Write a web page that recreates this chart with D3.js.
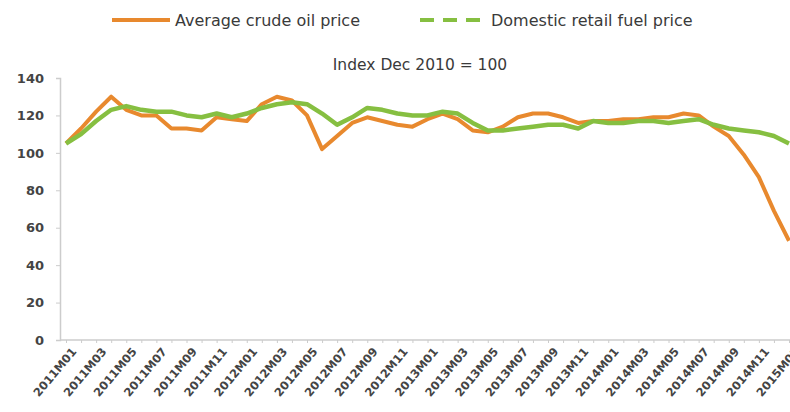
<!DOCTYPE html>
<html>
<head>
<meta charset="utf-8">
<script src="https://cdn.jsdelivr.net/npm/d3@7"></script>
<style>
  body { margin: 0; background: #fff; }
  text { font-family: "DejaVu Sans", sans-serif; fill: #3a3a3a; }
</style>
</head>
<body>
<div id="chart"></div>
<script>
const months = [
  '2011M01','2011M02','2011M03','2011M04','2011M05','2011M06','2011M07','2011M08','2011M09','2011M10','2011M11','2011M12',
  '2012M01','2012M02','2012M03','2012M04','2012M05','2012M06','2012M07','2012M08','2012M09','2012M10','2012M11','2012M12',
  '2013M01','2013M02','2013M03','2013M04','2013M05','2013M06','2013M07','2013M08','2013M09','2013M10','2013M11','2013M12',
  '2014M01','2014M02','2014M03','2014M04','2014M05','2014M06','2014M07','2014M08','2014M09','2014M10','2014M11','2014M12',
  '2015M01'
];

// average crude oil price index
const crude = [
  105, 113, 122, 130, 123, 120, 120, 113, 113, 112, 119, 118,
  117, 126, 130, 128, 120, 102, 109, 116, 119, 117, 115, 114,
  118, 121, 118, 112, 111, 114, 119, 121, 121, 119, 116, 117,
  117, 118, 118, 119, 119, 121, 120, 114, 109, 99, 87, 69,
  53
];

// domestic retail fuel price index
const retail = [
  105, 110, 117, 123, 125, 123, 122, 122, 120, 119, 121, 119,
  121, 124, 126, 127, 126, 121, 115, 119, 124, 123, 121, 120,
  120, 122, 121, 116, 112, 112, 113, 114, 115, 115, 113, 117,
  116, 116, 117, 117, 116, 117, 118, 115, 113, 112, 111, 109,
  105
];

const yTicks = [0, 20, 40, 60, 80, 100, 120, 140];
const xTickLabels = months.filter((m, i) => i % 2 === 0);

const width = 790;
const height = 412;

const svg = d3.select('#chart')
  .append('svg')
  .attr('width', width)
  .attr('height', height);

const x = d3.scalePoint()
  .domain(months)
  .range([66, 789]);

const y = d3.scaleLinear()
  .domain([0, 140])
  .range([340, 78]);

// Y axis
const yAxis = svg.append('g')
  .attr('transform', 'translate(60,0)')
  .call(d3.axisLeft(y).tickValues(yTicks).tickSize(4).tickPadding(12));
yAxis.select('.domain').attr('stroke', '#ccc').attr('stroke-width', 1.5);
yAxis.selectAll('.tick line').attr('stroke', '#ccc');
yAxis.selectAll('.tick text').attr('font-size', 13).attr('font-weight', 'bold').style('fill', '#444');

// X axis
const xAxis = svg.append('g')
  .attr('transform', 'translate(0,340)')
  .call(d3.axisBottom(x).tickValues(months).tickSize(3).tickSizeOuter(0)
    .tickFormat(d => xTickLabels.includes(d) ? d : ''));
xAxis.select('.domain').attr('stroke', '#ccc').attr('stroke-width', 1.5).attr('d', 'M60,0H790');
xAxis.selectAll('.tick line').attr('stroke', '#ccc');
xAxis.selectAll('.tick text')
  .attr('font-size', 11.5)
  .attr('font-weight', 'bold')
  .style('fill', '#444')
  .attr('text-anchor', 'end')
  .attr('dy', 0)
  .attr('transform', 'translate(6,8) rotate(-50)');

// Lines
const line = d3.line()
  .x((d, i) => x(months[i]))
  .y(d => y(d));

svg.append('path')
  .datum(crude)
  .attr('fill', 'none')
  .attr('stroke', '#E8892E')
  .attr('stroke-width', 4)
  .attr('stroke-linejoin', 'round')
  .attr('d', line);

svg.append('path')
  .datum(retail)
  .attr('fill', 'none')
  .attr('stroke', '#86BF41')
  .attr('stroke-width', 4.5)
  .attr('stroke-linejoin', 'round')
  .attr('d', line);

// Legend
const legend = svg.append('g');
legend.append('line')
  .attr('x1', 112).attr('x2', 170).attr('y1', 20).attr('y2', 20)
  .attr('stroke', '#E8892E').attr('stroke-width', 4);
legend.append('text')
  .attr('x', 175).attr('y', 26)
  .attr('font-size', 16)
  .text('Average crude oil price');
legend.append('line')
  .attr('x1', 420).attr('x2', 481).attr('y1', 20).attr('y2', 20)
  .attr('stroke', '#86BF41').attr('stroke-width', 4)
  .attr('stroke-dasharray', '14,9');
legend.append('text')
  .attr('x', 491).attr('y', 26)
  .attr('font-size', 16)
  .text('Domestic retail fuel price');

// Subtitle
svg.append('text')
  .attr('x', 420).attr('y', 70)
  .attr('text-anchor', 'middle')
  .attr('font-size', 15.5)
  .text('Index Dec 2010 = 100');
</script>
</body>
</html>
